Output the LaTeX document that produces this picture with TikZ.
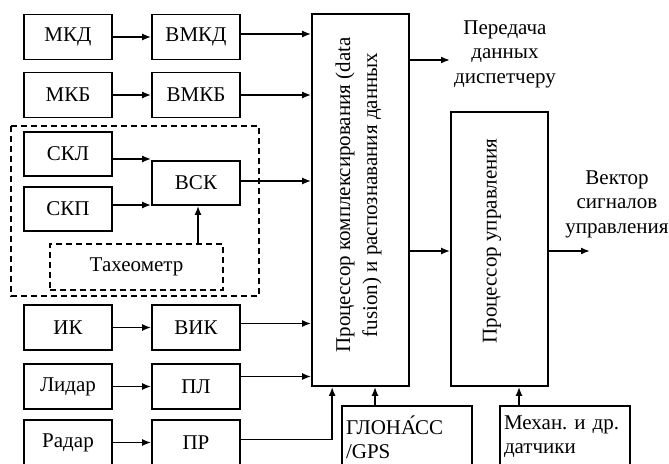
\documentclass[tikz,border=0pt]{standalone}
\usepackage{fontspec}
\setmainfont{Liberation Serif}
\usetikzlibrary{arrows.meta}

\tikzset{
  blk/.style={draw, line width=1.7pt, minimum width=88pt, minimum height=45pt, inner sep=0pt},
  dblk/.style={blk, dash pattern=on 6pt off 4pt},
  sblk/.style={draw, line width=1.7pt, minimum width=130pt, minimum height=62pt, inner sep=4pt, text width=122pt, align=left,
    font=\fontsize{21}{24}\selectfont},
  arr/.style={line width=1.7pt, -{Latex[length=9pt,width=7pt]}},
  txt/.style={align=center, inner sep=0pt}
}

\begin{document}
\frenchspacing
\begin{tikzpicture}[x=1pt, y=-1pt, every node/.style={font=\fontsize{21}{24.5}\selectfont}]
\useasboundingbox (0,0) rectangle (669,463);

% sensors and their processing units
\node[blk] (mkd) at (68, 37) {МКД};
\node[blk] (vmkd) at (196, 37) {ВМКД};
\node[blk] (mkb) at (68, 95) {МКБ};
\node[blk] (vmkb) at (196, 95) {ВМКБ};
\node[blk, minimum height=44pt] (skl) at (68, 154) {СКЛ};
\node[blk, minimum height=44pt] (skp) at (68, 209) {СКП};
\node[blk, minimum height=44pt] (vsk) at (196, 183) {ВСК};
\node[dblk, minimum width=173pt, minimum height=46pt] (tach) at (136.5, 267) {Тахеометр};
\node[blk] (ik) at (68, 327.5) {ИК};
\node[blk] (vik) at (196, 327.5) {ВИК};
\node[blk] (lidar) at (68, 386.5) {Лидар};
\node[blk] (pl) at (196, 386.5) {ПЛ};
\node[blk] (radar) at (68, 442.5) {Радар};
\node[blk] (pr) at (196, 442.5) {ПР};

% stereo group
\draw[line width=1.7pt, dash pattern=on 6pt off 4pt] (11, 126) rectangle (259, 296);

% processors
\node[blk, minimum width=97pt, minimum height=372pt] (proc) at (360.5, 200) {};
\node[txt, rotate=90, font=\fontsize{21}{27}\selectfont] (proclbl) at (358.5, 195) {Процессор комплексирования (data\\fusion) и распознавания данных};
\node[blk, minimum width=97pt, minimum height=274pt] (ctrl) at (499.5, 249) {};
\node[txt, rotate=90] (ctrllbl) at (492, 241) {Процессор управления};

\node[sblk] (glonass) at (407, 437) {ГЛОНА́СС\\/GPS};
\node[sblk] (mech) at (565, 437) {Механ. и др.\\датчики};

\node[txt] (disp) at (505, 54) {Передача\\данных\\диспетчеру};
\node[txt] (vect) at (617, 204) {Вектор\\сигналов\\управления};
\coordinate (dispend) at (450, 60);
\coordinate (vectend) at (590, 251);

% connections
\draw[arr] (mkd) -- (vmkd);
\draw[arr] (mkb) -- (vmkb);
\draw[arr] (ik) -- (vik);
\draw[arr] (lidar) -- (pl);
\draw[arr] (radar) -- (pr);
\draw[arr] ([yshift=-5pt]skl.east) -- ([yshift=-5pt]skl.east -| vsk.west);
\draw[arr] ([yshift=4pt]skp.east) -- ([yshift=4pt]skp.east -| vsk.west);
\draw[arr] ([xshift=2pt]tach.north -| vsk.south) -- ([xshift=2pt]vsk.south);

\draw[arr] ([yshift=3pt]vmkd.east) -- ([yshift=3pt]vmkd.east -| proc.west);
\draw[arr] (vmkb.east) -- (vmkb.east -| proc.west);
\draw[arr] ([yshift=2pt]vsk.east) -- ([yshift=2pt]vsk.east -| proc.west);
\draw[arr] ([yshift=4pt]vik.east) -- ([yshift=4pt]vik.east -| proc.west);
\draw[arr] ([yshift=10pt]pl.east) -- ([yshift=10pt]pl.east -| proc.west);
\draw[arr] ([yshift=3pt]pr.east) -| ([xshift=21pt]proc.south west);
\draw[arr] ([xshift=-32pt]glonass.north) -- ([xshift=-32pt]glonass.north |- proc.south);
\draw[arr] ([xshift=-46pt]mech.north) -- ([xshift=-46pt]mech.north |- ctrl.south);

\draw[arr] (proc.east |- dispend) -- (dispend);
\draw[arr] ([yshift=-2pt]ctrl.west -| proc.east) -- ([yshift=-2pt]ctrl.west);
\draw[arr] (ctrl.east |- vectend) -- (vectend);

\end{tikzpicture}
\end{document}
